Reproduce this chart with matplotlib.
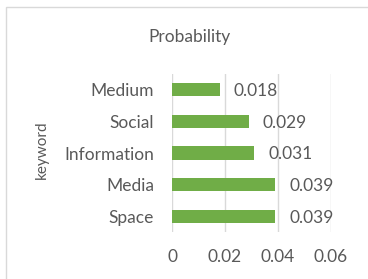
import matplotlib
matplotlib.use("Agg")
import matplotlib.pyplot as plt
from matplotlib.patches import Rectangle

keywords = ["Space", "Media", "Information", "Social", "Medium"]
probability = [0.039, 0.039, 0.031, 0.029, 0.018]
xticks = [0, 0.02, 0.04, 0.06]
xtick_labels = ["0", "0.02", "0.04", "0.06"]

text_color = "#595959"
plt.rcParams["font.family"] = ["Lato", "DejaVu Sans"]

W, H = 368, 279
fig = plt.figure(figsize=(W / 100, H / 100), dpi=100)

# chart frame like an Excel chart area
fig.patches.append(Rectangle((6 / W, -0.1), 1.2, 1 - 7 / H + 0.1,
                             transform=fig.transFigure, fill=False,
                             edgecolor="#D9D9D9", linewidth=1.0))

ax = fig.add_axes([172 / W, 1 - 232 / H, (331 - 172) / W, (232 - 74) / H])
ypos = range(len(keywords))
ax.barh(ypos, probability, height=0.42, color="#70AD47", zorder=3)
ax.set_xlim(0, 0.06)
ax.set_ylim(-0.5, len(keywords) - 0.5)
ax.set_xticks(xticks)
ax.set_xticklabels(xtick_labels)
ax.set_yticks(list(ypos))
ax.set_yticklabels(keywords)
ax.grid(axis="x", color="#D9D9D9", linewidth=1.0, zorder=0)
for s in ax.spines.values():
    s.set_visible(False)
ax.tick_params(length=0, colors=text_color, labelsize=12.5)
ax.tick_params(axis="x", pad=12)
ax.tick_params(axis="y", pad=13)

for y, v in zip(ypos, probability):
    ax.annotate(f"{v:.3f}", (v, y), xytext=(10, -1), textcoords="offset points",
                va="center", ha="left", color=text_color, fontsize=12.5)

fig.text(190 / W, 1 - 37 / H, "Probability", ha="center", va="center",
         color=text_color, fontsize=12.5)
fig.text(42 / W, 1 - 150 / H, "keyword", ha="center", va="center",
         rotation=90, color=text_color, fontsize=11)

fig.savefig("out.png", dpi=100)
